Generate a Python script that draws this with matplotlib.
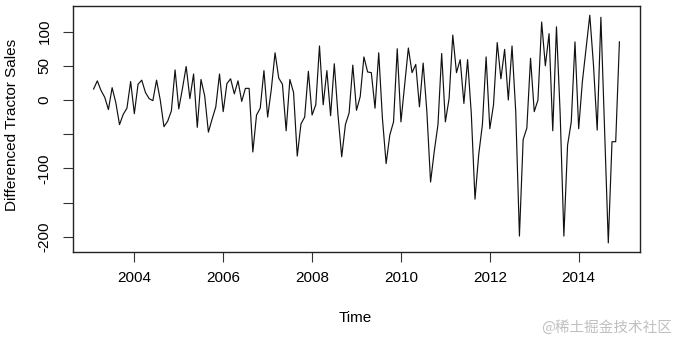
import numpy as np
import matplotlib
matplotlib.use("Agg")
import matplotlib.pyplot as plt

# Monthly differenced tractor sales, starting Feb 2003 (frequency 12)
start_year = 2003
start_month = 2
diff_sales = [
    16, 28, 14, 4, -14, 18, -4, -36, -21, -12, 27,            # 2003 Feb-Dec
    -20, 23, 29, 11, 2, -1, 29, 0, -39, -31, -16, 44,         # 2004
    -13, 17, 49, 2, 38, -40, 30, 6, -47, -28, -10, 38,        # 2005
    -17, 24, 31, 9, 28, -2, 17, 17, -76, -22, -12, 43,        # 2006
    -25, 16, 69, 32, 23, -45, 30, 11, -82, -35, -25, 42,      # 2007
    -22, -7, 79, -7, 43, -23, 53, -22, -83, -36, -19, 51,     # 2008
    -15, 5, 63, 41, 40, -12, 69, -27, -93, -51, -32, 75,      # 2009
    -32, 22, 76, 40, 52, -10, 54, -17, -120, -75, -36, 68,    # 2010
    -32, 2, 95, 40, 59, -5, 59, -20, -145, -80, -36, 63,      # 2011
    -42, -7, 84, 31, 74, 0, 79, -17, -199, -58, -41, 61,      # 2012
    -17, 0, 114, 50, 97, -45, 107, -20, -199, -66, -32, 85,   # 2013
    -42, 27, 75, 124, 51, -44, 121, -46, -209, -61, -61, 85,  # 2014
]
x_ticks = [2004, 2006, 2008, 2010, 2012, 2014]
y_ticks = [100, 50, 0, -50, -100, -150, -200]
y_ticklabels = ["100", "50", "0", "", "-100", "", "-200"]

plt.rcParams['font.family'] = ['Liberation Sans', 'DejaVu Sans']

n = len(diff_sales)
t = start_year + (start_month - 1 + np.arange(n)) / 12.0

fig = plt.figure(figsize=(6.77, 3.39), dpi=100)
ax = fig.add_axes([0.1072, 0.2566, 0.8388, 0.7254])
ax.plot(t, diff_sales, color='#111111', linewidth=0.85)

tr = t[-1] - t[0]
ax.set_xlim(t[0] - 0.04 * tr, t[-1] + 0.04 * tr)
yr = max(diff_sales) - min(diff_sales)
ax.set_ylim(min(diff_sales) - 0.04 * yr, max(diff_sales) + 0.04 * yr)

ax.set_xticks(x_ticks)
ax.set_xticklabels([str(v) for v in x_ticks])
ax.set_yticks(y_ticks)
ax.set_yticklabels(y_ticklabels, rotation=90, va='center')
ax.tick_params(axis='both', direction='out', length=7, width=0.8, labelsize=11, color='#333333')
ax.tick_params(axis='x', pad=7)
ax.tick_params(axis='y', pad=8)
for s in ax.spines.values():
    s.set_linewidth(1.0)
    s.set_color('#222222')

fig.text(0.018, 0.63, "Differenced Tractor Sales", rotation=90, ha='center', va='center', fontsize=11)
fig.text(0.525, 0.062, "Time", ha='center', va='center', fontsize=11)
fig.text(0.993, 0.035, "@稀土掘金技术社区", ha='right', va='center', fontsize=10.5,
         color='#c0c0c0', family=['Noto Sans CJK SC', 'DejaVu Sans'])

fig.savefig("out.png", dpi=100)
